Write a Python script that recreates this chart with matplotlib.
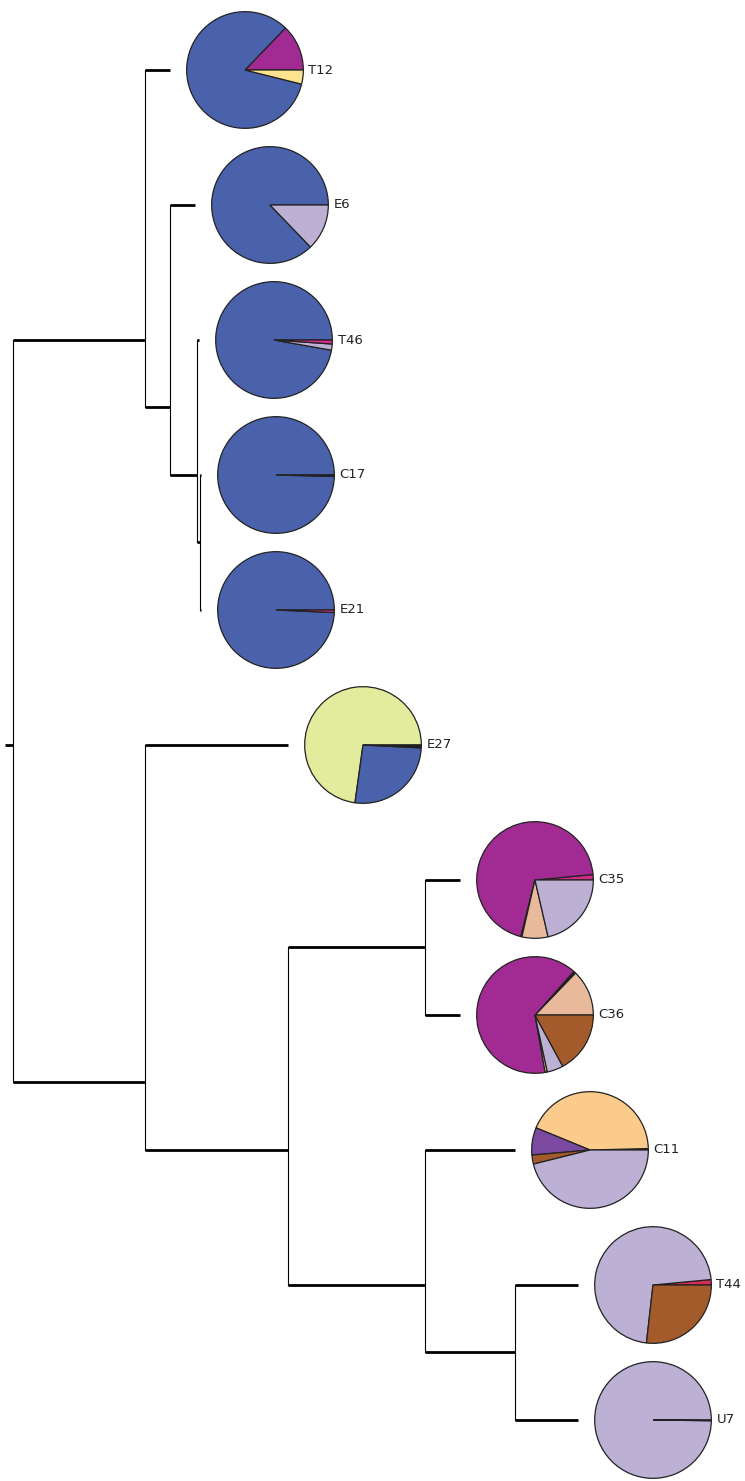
#!/usr/bin/env python3
"""Draw a rectangular cladogram with a composition pie at every tip."""

import re

import matplotlib

matplotlib.use("Agg")
import matplotlib.pyplot as plt

# tree topology and branch lengths
NEWICK = (
    "((T12:0.25,(E6:0.25,(T46:0.025,(C17:0.015,E21:0.015):0.03):0.265):0.25):1.32,"
    "(E27:1.43,((C35:0.35,C36:0.35):1.37,(C11:0.90,(T44:0.63,U7:0.63):0.90):1.37)"
    ":1.43):1.32):0.08;"
)

# group colours
palette = {
    "A": "#4a62ac",   # blue
    "B": "#a22b93",   # magenta
    "C": "#fde38f",   # pale yellow
    "D": "#bcb0d5",   # lavender
    "E": "#d42a8a",   # pink
    "F": "#e3ec9d",   # yellow-green
    "G": "#e8b99b",   # peach
    "H": "#a45b2b",   # brown
    "I": "#fbcb8b",   # light orange
    "J": "#7b4aa0",   # purple
    "K": "#d72d55",   # red
    "L": "#1b1b1b",   # black
}

# per-tip composition (percent), wedges listed counter-clockwise from 3 o'clock
pie_groups = {
    "T12": ["B", "A", "C"],
    "E6": ["A", "D"],
    "T46": ["A", "D", "E"],
    "C17": ["A", "L"],
    "E21": ["A", "E"],
    "E27": ["F", "A", "L"],
    "C35": ["E", "B", "L", "G", "D"],
    "C36": ["G", "L", "B", "I", "D", "H"],
    "C11": ["L", "I", "J", "H", "D"],
    "T44": ["K", "D", "H"],
    "U7": ["D", "L"],
}
pie_values = {
    "T12": [12.8, 83.3, 3.9],
    "E6": [87.2, 12.8],
    "T46": [97.2, 1.7, 1.1],
    "C17": [99.6, 0.4],
    "E21": [99.3, 0.7],
    "E27": [72.8, 26.4, 0.8],
    "C35": [1.5, 69.6, 0.3, 7.2, 21.4],
    "C36": [12.8, 0.6, 64.4, 0.6, 4.5, 17.1],
    "C11": [0.4, 43.4, 7.6, 2.5, 46.1],
    "T44": [1.5, 71.7, 26.8],
    "U7": [99.8, 0.2],
}

ROOT_X = 0.05
PIE_OFFSET = 0.75      # tip end -> pie centre, x units
PIE_RADIUS_PX = 59.5
FIG_W, FIG_H = 745, 1481
LEAF_PX0, LEAF_STEP_PX = 70, 135


def parse_newick(s):
    """Tiny parser: returns nested dicts with name, length, children."""
    tokens = re.findall(r"[(),;]|[^(),;]+", s)
    pos = 0

    def clade():
        nonlocal pos
        node = {"name": None, "length": 0.0, "children": []}
        if tokens[pos] == "(":
            pos += 1
            while True:
                node["children"].append(clade())
                if tokens[pos] == ",":
                    pos += 1
                    continue
                pos += 1  # ")"
                break
        if pos < len(tokens) and tokens[pos] not in "(),;":
            label = tokens[pos]
            pos += 1
            name, _, length = label.partition(":")
            node["name"] = name or None
            node["length"] = float(length) if length else 0.0
        return node

    return clade()


def layout(node, x0, leaves):
    """Assign x (depth) and y (mean of terminal rows) to every clade."""
    node["x"] = x0 + node["length"]
    if not node["children"]:
        leaves.append(node)
        node["y"] = len(leaves)
        node["tips"] = [node["y"]]
        return
    tips = []
    for child in node["children"]:
        layout(child, node["x"], leaves)
        tips += child["tips"]
    node["tips"] = tips
    node["y"] = sum(tips) / len(tips)


def draw_clade(ax, node, parent_x):
    ax.plot([parent_x, node["x"]], [node["y"], node["y"]],
            color="black", lw=2.0, solid_capstyle="butt")
    if node["children"]:
        ys = [c["y"] for c in node["children"]]
        ax.plot([node["x"], node["x"]], [min(ys), max(ys)],
                color="black", lw=0.8)
        for child in node["children"]:
            draw_clade(ax, child, node["x"])


def main():
    tree = parse_newick(NEWICK)
    leaves = []
    layout(tree, ROOT_X, leaves)

    fig = plt.figure(figsize=(FIG_W / 100, FIG_H / 100), dpi=100)
    ax = fig.add_axes([0, 0, 1, 1])
    ax.set_xlim(0, FIG_W / 100)
    top = 1 - LEAF_PX0 / LEAF_STEP_PX
    bottom = 1 + (FIG_H - LEAF_PX0) / LEAF_STEP_PX
    ax.set_ylim(bottom, top)
    ax.axis("off")

    draw_clade(ax, tree, ROOT_X)
    fig.canvas.draw()

    # one small square axes per tip for its pie
    w = 2 * PIE_RADIUS_PX / FIG_W
    h = 2 * PIE_RADIUS_PX / FIG_H
    to_fig = fig.transFigure.inverted()
    for leaf in leaves:
        name = leaf["name"]
        cx = leaf["x"] + PIE_OFFSET
        fx, fy = to_fig.transform(ax.transData.transform((cx, leaf["y"])))
        pax = fig.add_axes([fx - w / 2, fy - h / 2, w, h])
        pax.pie(
            pie_values[name],
            colors=[palette[g] for g in pie_groups[name]],
            startangle=0, counterclock=True, radius=1.0,
            wedgeprops=dict(edgecolor="#222222", linewidth=0.9),
        )
        pax.set_xlim(-1.02, 1.02)
        pax.set_ylim(-1.02, 1.02)
        pax.axis("off")
        ax.text(cx + PIE_RADIUS_PX / 100 + 0.04, leaf["y"], name,
                va="center", ha="left", fontsize=9.5, color="#222222")

    fig.savefig("out.png", dpi=100)


if __name__ == "__main__":
    main()
